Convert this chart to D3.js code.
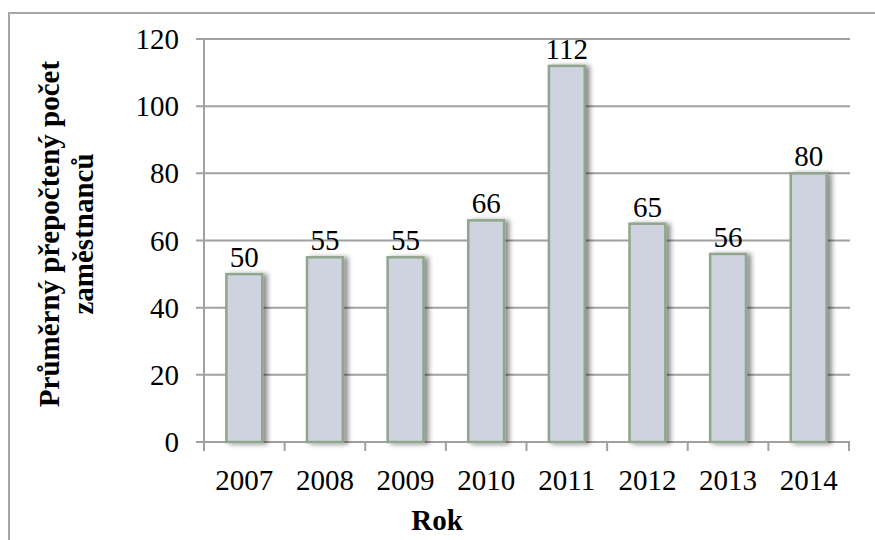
<!DOCTYPE html>
<html lang="cs">
  <head>
    <meta charset="utf-8">
    <title>Průměrný přepočtený počet zaměstnanců</title>
    <script src="https://d3js.org/d3.v7.min.js"></script>
    <style>
      body { margin: 0; background: #fff; }
      text { font-family: "Liberation Serif", "Times New Roman", serif; fill: #000; }
    </style>
  </head>
  <body>
    <script>
      var years = ["2007", "2008", "2009", "2010", "2011", "2012", "2013", "2014"];
      var counts = [50, 55, 55, 66, 112, 65, 56, 80];
      var yTicks = [0, 20, 40, 60, 80, 100, 120];
      var yTitle = ["Průměrný přepočtený počet", "zaměstnanců"];
      var xTitle = "Rok";

      var svg = d3.select("body").append("svg")
                  .attr("width", 875)
                  .attr("height", 540);

      // shadow like the Excel bars
      var f = svg.append("defs").append("filter")
                 .attr("id", "shadow")
                 .attr("x", "-30%").attr("y", "-10%")
                 .attr("width", "170%").attr("height", "130%");
      f.append("feDropShadow")
       .attr("dx", 4).attr("dy", 1)
       .attr("stdDeviation", 2.5)
       .attr("flood-color", "#000")
       .attr("flood-opacity", 0.45);

      // outer chart border
      svg.append("path")
         .attr("d", "M9,541 L9,13 L876,13")
         .attr("fill", "none")
         .attr("stroke", "#a6a6a6")
         .attr("stroke-width", 2);

      var x = d3.scaleBand().domain(years).range([204, 849]).paddingInner(0).paddingOuter(0);
      var y = d3.scaleLinear().domain([0, 120]).range([442, 39]);

      // gridlines with small ticks to the left
      svg.append("g").selectAll("line")
         .data(yTicks)
         .enter().append("line")
         .attr("x1", 196).attr("x2", 850)
         .attr("y1", function(d) { return y(d); })
         .attr("y2", function(d) { return y(d); })
         .attr("stroke", "#a0a0a0")
         .attr("stroke-width", 2);

      // y axis line
      svg.append("line")
         .attr("x1", 204).attr("x2", 204)
         .attr("y1", y(120)).attr("y2", y(0))
         .attr("stroke", "#a0a0a0").attr("stroke-width", 2);

      // x ticks at band edges
      var edges = years.map(function(d) { return x(d); }).concat([x.range()[1]]);
      svg.append("g").selectAll("line")
         .data(edges)
         .enter().append("line")
         .attr("x1", function(d) { return d; })
         .attr("x2", function(d) { return d; })
         .attr("y1", y(0)).attr("y2", y(0) + 9)
         .attr("stroke", "#a0a0a0").attr("stroke-width", 2);

      var bw = x.bandwidth() / 2.25;

      svg.append("g").selectAll("rect")
         .data(counts)
         .enter().append("rect")
         .attr("x", function(d, i) { return x(years[i]) + (x.bandwidth() - bw) / 2; })
         .attr("y", function(d) { return y(d); })
         .attr("width", bw)
         .attr("height", function(d) { return y(0) - y(d); })
         .attr("fill", "#cfd3e0")
         .attr("stroke", "#8fa68c")
         .attr("stroke-width", 2.5)
         .attr("filter", "url(#shadow)");

      // value labels
      svg.append("g").selectAll("text")
         .data(counts)
         .enter().append("text")
         .attr("x", function(d, i) { return x(years[i]) + x.bandwidth() / 2; })
         .attr("y", function(d) { return y(d) - 7; })
         .attr("text-anchor", "middle")
         .style("font-size", "29px")
         .text(function(d) { return d; });

      // y tick labels
      svg.append("g").selectAll("text")
         .data(yTicks)
         .enter().append("text")
         .attr("x", 179)
         .attr("y", function(d) { return y(d) + 10; })
         .attr("text-anchor", "end")
         .style("font-size", "29px")
         .text(function(d) { return d; });

      // x tick labels
      svg.append("g").selectAll("text")
         .data(years)
         .enter().append("text")
         .attr("x", function(d) { return x(d) + x.bandwidth() / 2; })
         .attr("y", 490)
         .attr("text-anchor", "middle")
         .style("font-size", "29px")
         .text(function(d) { return d; });

      svg.append("text")
         .attr("x", 437).attr("y", 530)
         .attr("text-anchor", "middle")
         .style("font-size", "29px").style("font-weight", "bold")
         .text(xTitle);

      var yt = svg.append("text")
                  .attr("transform", "translate(0,234) rotate(-90)")
                  .attr("text-anchor", "middle")
                  .style("font-size", "29px").style("font-weight", "bold");
      yt.selectAll("tspan")
        .data(yTitle)
        .enter().append("tspan")
        .attr("x", 0)
        .attr("y", function(d, i) { return 59 + i * 34; })
        .text(function(d) { return d; });
    </script>
  </body>
</html>
